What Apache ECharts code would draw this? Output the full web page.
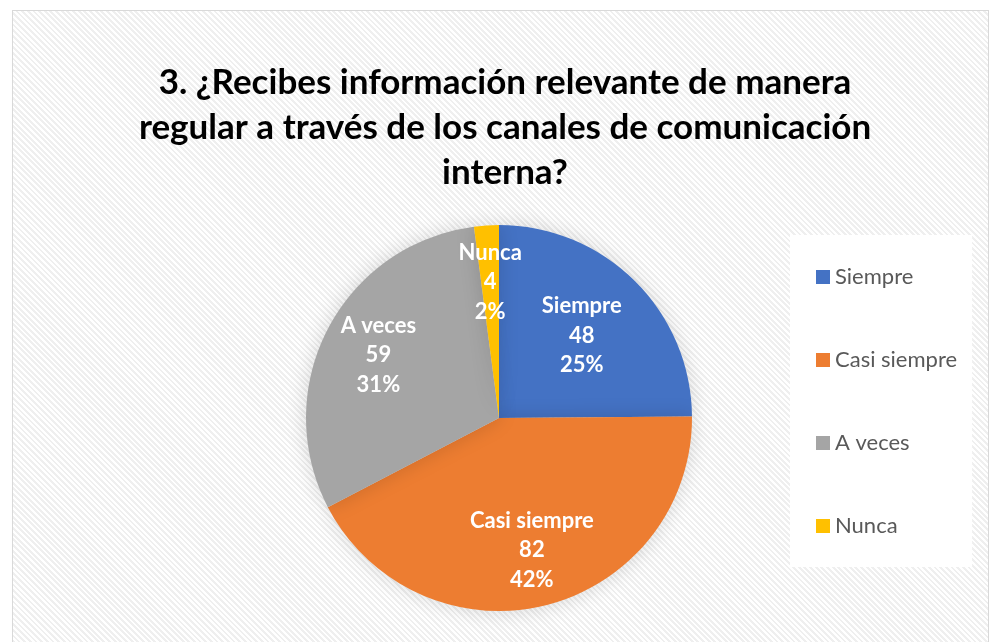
<!DOCTYPE html>
<html>
<head>
<meta charset="utf-8">
<script src="https://cdn.jsdelivr.net/npm/echarts@6/dist/echarts.min.js"></script>
<style>
  html, body { margin: 0; padding: 0; background: #ffffff; }
  #frame {
    position: absolute; left: 12px; top: 10px; width: 975px; height: 640px;
    border: 1px solid #d9d9d9;
    background: repeating-linear-gradient(45deg, #ffffff 0px, #ffffff 2px, #efefef 2px, #efefef 4px);
  }
  #chart { position: absolute; left: 0; top: 0; width: 992px; height: 642px; }
</style>
</head>
<body>
<div id="frame"></div>
<div id="chart"></div>
<script>
const titleText = '3. ¿Recibes información relevante de manera\nregular a través de los canales de comunicación\ninterna?';
const categories = ['Siempre', 'Casi siempre', 'A veces', 'Nunca'];
const values = [48, 82, 59, 4];
const colors = ['#4472c4', '#ed7d31', '#a5a5a5', '#ffc000'];

const total = values.reduce((a, b) => a + b, 0);
const data = categories.map((c, i) => ({ name: c, value: values[i], itemStyle: { color: colors[i] } }));

const chart = echarts.init(document.getElementById('chart'), null, { renderer: 'canvas' });
chart.setOption({
  backgroundColor: 'transparent',
  animation: false,
  title: {
    text: titleText,
    left: 500, top: 55, textAlign: 'center',
    textStyle: { fontFamily: 'Lato', fontWeight: 'bold', fontSize: 35, lineHeight: 45, color: '#000000' }
  },
  legend: {
    orient: 'vertical',
    left: 790, top: 235,
    padding: [31, 15, 30, 26],
    backgroundColor: '#ffffff',
    itemWidth: 14, itemHeight: 14, itemGap: 61,
    icon: 'rect',
    textStyle: { fontFamily: 'Lato', fontSize: 22, color: '#595959' },
    data: categories
  },
  series: [
    {
      type: 'pie',
      center: [499, 418],
      radius: [0, 193],
      startAngle: 90,
      clockwise: true,
      silent: true,
      label: { show: false },
      labelLine: { show: false },
      itemStyle: { shadowBlur: 20, shadowColor: 'rgba(0,0,0,0.15)' },
      data: data
    },
    {
      type: 'pie',
      center: [499, 418],
      radius: [0, 266],
      startAngle: 90,
      clockwise: true,
      silent: true,
      itemStyle: { color: 'rgba(0,0,0,0)' },
      label: {
        show: true,
        position: 'inside',
        color: '#ffffff',
        fontFamily: 'Lato',
        fontWeight: 'bold',
        fontSize: 22,
        lineHeight: 29.5,
        formatter: p => p.name + '\n' + p.value + '\n' + Math.round(p.value / total * 100) + '%'
      },
      labelLine: { show: false },
      data: categories.map((c, i) => ({
        name: c, value: values[i],
        itemStyle: { color: 'rgba(0,0,0,0)' },
        label: i === 0 ? { offset: [-13, 14] } : {}
      }))
    }
  ]
});
</script>
</body>
</html>
